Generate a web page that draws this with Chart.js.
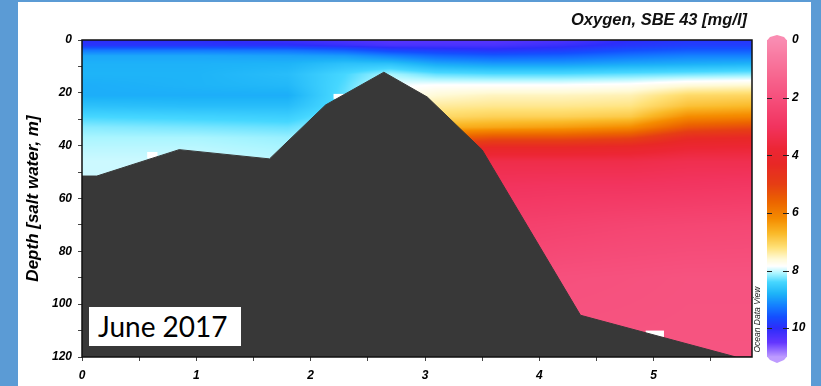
<!DOCTYPE html>
<html>
<head>
<meta charset="utf-8">
<script src="https://cdn.jsdelivr.net/npm/chart.js@4.4.1/dist/chart.umd.min.js"></script>
<style>
  html, body { margin:0; padding:0; }
  body { width:821px; height:386px; background:#5b9bd5; position:relative; overflow:hidden; }
  #panel { position:absolute; left:18px; top:2px; width:793px; height:384px; background:#fff; }
  #myChart { position:absolute; left:0; top:0; }
  #when { position:absolute; left:71px; top:305px; width:152px; height:39px; background:#fff;
          font-family:Lato, "Open Sans", sans-serif; font-size:28px; line-height:39px; color:#000;
          padding-left:9px; box-sizing:border-box; }
</style>
</head>
<body>
<div id="panel">
  <canvas id="myChart" width="793" height="384"></canvas>
  <div id="when">June 2017</div>
</div>
<script>
// section: distance along track (km) x depth (m), oxygen in mg/l
const stations = [0, 1.0, 1.8, 2.3, 2.7, 3.1, 3.6, 4.2, 4.8, 5.3, 5.86];
const depthLevels = [0, 2, 4, 6, 9, 13, 17, 21, 25, 29, 33, 37, 41, 46, 55, 70, 90, 120];
const oxygen = [
  [10.0, 9.9, 9.25, 8.9, 8.82, 8.8, 8.85, 8.85, 8.65, 8.4, 8.2, 8.1, 8.05, 8.0, 8.0, 8.0, 8.0, 8.0],
  [10.0, 9.9, 9.25, 8.9, 8.82, 8.8, 8.8, 8.85, 8.7, 8.45, 8.25, 8.1, 8.05, 8.0, 8.0, 8.0, 8.0, 8.0],
  [10.15, 9.95, 9.3, 8.95, 8.8, 8.7, 8.75, 8.85, 8.7, 8.5, 8.3, 8.15, 8.1, 8.05, 8.0, 8.0, 8.0, 8.0],
  [10.3, 10.1, 9.45, 9.0, 8.65, 8.4, 8.35, 8.3, 8.3, 8.2, 8.1, 8.0, 8.0, 8.0, 8.0, 8.0, 8.0, 8.0],
  [10.4, 10.25, 9.7, 9.2, 8.65, 8.1, 7.9, 7.8, 7.6, 7.3, 7.0, 6.0, 4.5, 3.5, 3.1, 2.6, 2.2, 2.0],
  [10.4, 10.25, 9.8, 9.4, 8.9, 8.3, 7.85, 7.6, 7.35, 7.1, 6.6, 5.6, 4.4, 3.5, 3.1, 2.6, 2.2, 2.0],
  [10.4, 10.25, 9.9, 9.5, 9.0, 8.35, 7.85, 7.5, 7.3, 7.0, 6.5, 5.3, 4.2, 3.4, 3.05, 2.6, 2.2, 2.0],
  [10.3, 10.1, 9.8, 9.45, 9.0, 8.35, 7.85, 7.5, 7.3, 7.0, 6.4, 5.3, 4.2, 3.4, 3.0, 2.5, 2.0, 1.85],
  [10.0, 9.9, 9.6, 9.3, 8.9, 8.3, 7.8, 7.45, 7.25, 6.9, 6.2, 5.1, 4.1, 3.4, 3.0, 2.4, 1.95, 1.85],
  [9.9, 9.8, 9.5, 9.2, 8.85, 8.25, 7.65, 7.1, 6.8, 6.2, 5.4, 4.4, 3.8, 3.3, 2.95, 2.35, 1.9, 1.85],
  [9.9, 9.8, 9.5, 9.2, 8.8, 8.2, 7.6, 7.05, 6.7, 6.1, 5.2, 4.3, 3.75, 3.3, 2.9, 2.3, 1.9, 1.85]
];
// bottom profile
const seabedX = [0, 0.13, 0.85, 1.64, 2.13, 2.64, 3.02, 3.5, 4.36, 5.72, 5.86];
const seabedDepth = [51.5, 51.5, 41.5, 45, 24.6, 12.2, 21.6, 41.6, 104.2, 120, 120];
// empty grid cells [x0, x1, depth0, depth1]
const gaps = [[0.57, 0.66, 42.4, 44.8], [2.2, 2.32, 20.4, 22.3], [4.93, 5.09, 110, 112.4]];

const xTickVals = [0, 0.5, 1, 1.5, 2, 2.5, 3, 3.5, 4, 4.5, 5, 5.5];
const depthTicks = [0, 10, 20, 30, 40, 50, 60, 70, 80, 90, 100, 110, 120];
const cbarTicks = [0, 2, 4, 6, 8, 10];
const cbarMin = 0, cbarMax = 11;

// ODV colour scale (value -> rgb)
const cmapVals = [0, 1, 2, 3, 3.8, 4.3, 5, 5.6, 6.2, 6.7, 7.2, 7.6, 7.85, 8.1, 8.4, 8.8, 9.2, 9.6, 10, 10.5, 11];
const cmapRgb = [
  [250,140,178],[248,110,150],[246,80,125],[242,52,95],[236,38,52],[232,40,38],[230,62,20],
  [236,100,0],[245,140,0],[250,185,40],[255,225,120],[255,250,215],[255,255,255],[170,245,255],
  [70,215,255],[30,180,248],[20,130,255],[20,80,255],[45,45,250],[100,55,255],[190,155,255]
];

function colorFor(v){
  if (v <= cmapVals[0]) return cmapRgb[0];
  const n = cmapVals.length;
  if (v >= cmapVals[n-1]) return cmapRgb[n-1];
  let i = 0;
  while (v > cmapVals[i+1]) i++;
  const t = (v - cmapVals[i]) / (cmapVals[i+1] - cmapVals[i]);
  const a = cmapRgb[i], b = cmapRgb[i+1];
  return [a[0]+(b[0]-a[0])*t, a[1]+(b[1]-a[1])*t, a[2]+(b[2]-a[2])*t];
}

function findIdx(arr, v){
  if (v <= arr[0]) return [0, 0];
  if (v >= arr[arr.length-1]) return [arr.length-2, 1];
  let i = 0;
  while (v > arr[i+1]) i++;
  return [i, (v - arr[i]) / (arr[i+1] - arr[i])];
}

function sampleField(xv, d){
  const [i, tx] = findIdx(stations, xv);
  const [j, td] = findIdx(depthLevels, d);
  const a = oxygen[i][j], b = oxygen[i][j+1], c = oxygen[i+1][j], e = oxygen[i+1][j+1];
  const left = a + (b-a)*td, right = c + (e-c)*td;
  return left + (right-left)*tx;
}

const fieldPlugin = {
  id: 'field',
  beforeDatasetsDraw(chart){
    const {ctx, chartArea: a, scales: {x, y}} = chart;
    const w = Math.round(a.right - a.left), h = Math.round(a.bottom - a.top);
    const off = document.createElement('canvas');
    off.width = w; off.height = h;
    const octx = off.getContext('2d');
    const img = octx.createImageData(w, h);
    for (let j = 0; j < h; j++){
      const d = y.getValueForPixel(a.top + j + 0.5);
      for (let i = 0; i < w; i++){
        const c = colorFor(sampleField(x.getValueForPixel(a.left + i + 0.5), d));
        const k = (j*w + i)*4;
        img.data[k] = c[0]; img.data[k+1] = c[1]; img.data[k+2] = c[2]; img.data[k+3] = 255;
      }
    }
    octx.putImageData(img, 0, 0);
    ctx.save();
    ctx.drawImage(off, a.left, a.top);
    ctx.fillStyle = '#fff';
    gaps.forEach(g => {
      const x0 = x.getPixelForValue(g[0]), x1 = x.getPixelForValue(g[1]);
      const y0 = y.getPixelForValue(g[2]), y1 = y.getPixelForValue(g[3]);
      ctx.fillRect(x0, y0, x1-x0, y1-y0);
    });
    ctx.restore();
  },
  afterDatasetsDraw(chart){
    const {ctx, chartArea: a} = chart;
    ctx.save();
    ctx.strokeStyle = '#111';
    ctx.lineWidth = 1.5;
    ctx.strokeRect(a.left, a.top, a.right - a.left, a.bottom - a.top);
    ctx.restore();
  },
  afterDraw(chart){
    const {ctx, chartArea: a, scales: {cb}} = chart;
    ctx.save();
    // colour bar
    const bx = a.right + 15, bw = 20;
    const top = cb.getPixelForValue(cbarMin), bot = cb.getPixelForValue(cbarMax);
    for (let yy = Math.floor(top); yy < bot; yy++){
      const c = colorFor(cb.getValueForPixel(yy + 0.5));
      ctx.fillStyle = `rgb(${c[0]|0},${c[1]|0},${c[2]|0})`;
      ctx.fillRect(bx, yy, bw, 1);
    }
    let c = colorFor(cbarMin);
    ctx.fillStyle = `rgb(${c[0]},${c[1]},${c[2]})`;
    ctx.beginPath();
    ctx.moveTo(bx, top + 0.5); ctx.lineTo(bx + 3, top - 3); ctx.lineTo(bx + bw/2, top - 5);
    ctx.lineTo(bx + bw - 3, top - 3); ctx.lineTo(bx + bw, top + 0.5); ctx.closePath(); ctx.fill();
    c = colorFor(cbarMax);
    ctx.fillStyle = `rgb(${c[0]},${c[1]},${c[2]})`;
    ctx.beginPath();
    ctx.moveTo(bx, bot - 0.5); ctx.lineTo(bx + 3, bot + 3); ctx.lineTo(bx + bw/2, bot + 6);
    ctx.lineTo(bx + bw - 3, bot + 3); ctx.lineTo(bx + bw, bot - 0.5); ctx.closePath(); ctx.fill();
    ctx.strokeStyle = '#222';
    ctx.lineWidth = 1;
    cbarTicks.forEach(v => {
      if (v === cbarMin) return;
      const py = Math.round(cb.getPixelForValue(v)) + 0.5;
      ctx.beginPath();
      ctx.moveTo(bx, py); ctx.lineTo(bx + 5, py);
      ctx.moveTo(bx + bw - 4, py); ctx.lineTo(bx + bw + 2, py);
      ctx.stroke();
    });
    // title
    ctx.fillStyle = '#111';
    ctx.font = 'italic bold 16.5px "Liberation Sans", Arial, sans-serif';
    ctx.textAlign = 'right';
    ctx.textBaseline = 'middle';
    ctx.fillText('Oxygen, SBE 43 [mg/l]', a.right - 5, 18);
    // software tag
    ctx.translate(a.right + 6, cb.getPixelForValue(9.7));
    ctx.rotate(-Math.PI/2);
    ctx.font = 'italic 8.5px "Liberation Sans", Arial, sans-serif';
    ctx.textAlign = 'center';
    ctx.fillStyle = '#222';
    ctx.fillText('Ocean Data View', 0, 0);
    ctx.restore();
  }
};

const tickFont = { family: '"Liberation Sans", Arial, sans-serif', size: 12, weight: 'bold', style: 'italic' };

const data = {
  datasets: [{
    label: 'Seabed',
    data: seabedX.map((v, i) => ({ x: v, y: seabedDepth[i] })),
    borderColor: '#383838',
    backgroundColor: '#383838',
    borderWidth: 1,
    fill: { value: 120 },
    pointRadius: 0,
    tension: 0
  }]
};

const config = {
  type: 'line',
  data: data,
  options: {
    responsive: false,
    animation: false,
    layout: { padding: { top: 38, left: 0, right: 0, bottom: 0 } },
    plugins: { legend: { display: false }, tooltip: { enabled: false } },
    scales: {
      x: {
        type: 'linear', min: 0, max: 5.86,
        afterBuildTicks: s => { s.ticks = xTickVals.map(v => ({ value: v })); },
        afterFit: s => { s.height = 29; s.paddingLeft = 0; s.paddingRight = 0; },
        ticks: { callback: v => Number.isInteger(v) ? v : '', font: tickFont, color: '#000', padding: 7, autoSkip: false, maxRotation: 0 },
        grid: { drawOnChartArea: false, tickLength: 4, color: '#444' },
        border: { display: false }
      },
      y: {
        type: 'linear', reverse: true, min: 0, max: 120,
        afterBuildTicks: s => { s.ticks = depthTicks.map(v => ({ value: v })); },
        afterFit: s => { s.width = 64; s.paddingTop = 0; s.paddingBottom = 0; },
        ticks: { callback: v => v % 20 === 0 ? v : '', font: tickFont, color: '#000', padding: 6, autoSkip: false },
        grid: { drawOnChartArea: false, tickLength: 4, color: '#444' },
        border: { display: false },
        title: { display: true, text: 'Depth [salt water, m]', color: '#000',
                 font: { family: '"Liberation Sans", Arial, sans-serif', size: 17, weight: 'bold', style: 'italic' },
                 padding: { top: 5, bottom: 0 } }
      },
      cb: {
        type: 'linear', position: 'right', reverse: true, min: cbarMin, max: cbarMax,
        afterBuildTicks: s => { s.ticks = cbarTicks.map(v => ({ value: v })); },
        afterFit: s => { s.width = 59; s.paddingTop = 0; s.paddingBottom = 0; },
        ticks: { font: tickFont, color: '#000', padding: 40, autoSkip: false },
        grid: { display: false, drawTicks: false },
        border: { display: false }
      }
    }
  },
  plugins: [fieldPlugin]
};

var myChart = new Chart(document.getElementById('myChart'), config);
</script>
</body>
</html>
